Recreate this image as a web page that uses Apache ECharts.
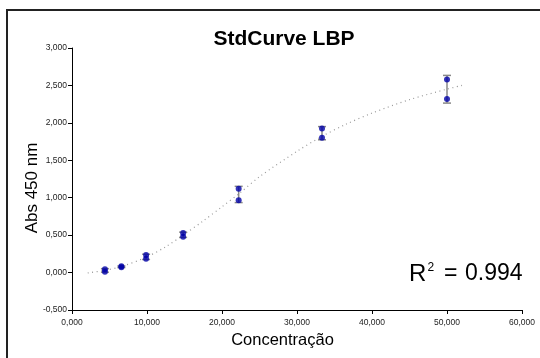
<!DOCTYPE html>
<html>
<head>
<meta charset="utf-8">
<script src="https://cdn.jsdelivr.net/npm/echarts@6/dist/echarts.min.js"></script>
<style>html,body{margin:0;padding:0;background:#fff}#c{width:540px;height:358px}</style>
</head>
<body>
<div id="c"></div>
<script>
// Data
var conc = [4.390, 6.584, 9.877, 14.815, 22.222, 33.333, 50.000];
var rep1 = [0.045, 0.085, 0.235, 0.530, 1.121, 1.924, 2.580];
var rep2 = [0.012, 0.070, 0.185, 0.480, 0.967, 1.800, 2.318];
var errHigh = [0.052, 0.088, 0.245, 0.540, 1.152, 1.950, 2.634];
var errLow  = [0.005, 0.067, 0.175, 0.470, 0.935, 1.774, 2.264];
var fitX = [2.1, 4.39, 6.584, 9.877, 12.5, 14.815, 17.5, 20, 22.222, 25, 30, 33.333, 36.5, 40, 45, 50, 52];
var fitY = [-0.005, 0.03, 0.08, 0.205, 0.345, 0.5, 0.69, 0.88, 1.05, 1.28, 1.62, 1.82, 1.98, 2.13, 2.31, 2.45, 2.50];
var xTicks = [0, 10, 20, 30, 40, 50, 60];
var yTicks = [-0.5, 0, 0.5, 1, 1.5, 2, 2.5, 3];

var FONT = '"Liberation Sans", Arial, sans-serif';
function fmt(v){ return v.toFixed(3).replace('.', ','); }

var pts = [];
for (var i = 0; i < conc.length; i++) { pts.push([conc[i], rep1[i]]); pts.push([conc[i], rep2[i]]); }
var errData = conc.map(function(c, i){ return [c, errLow[i], errHigh[i]]; });
var fitData = fitX.map(function(x, i){ return [x, fitY[i]]; });

var chart = echarts.init(document.getElementById('c'), null, {renderer: 'canvas'});
chart.setOption({
  animation: false,
  backgroundColor: '#fff',
  grid: {left: 72, right: 18, top: 48, bottom: 48, containLabel: false},
  xAxis: {
    type: 'value', min: xTicks[0], max: xTicks[xTicks.length-1], interval: 10,
    axisLine: {onZero: false, lineStyle: {color: '#000', width: 1}},
    axisTick: {show: true, length: 4, lineStyle: {color: '#000'}},
    splitLine: {show: false},
    axisLabel: {formatter: fmt, fontSize: 8.5, color: '#222', fontFamily: FONT, margin: 8}
  },
  yAxis: {
    type: 'value', min: yTicks[0], max: yTicks[yTicks.length-1], interval: 0.5,
    axisLine: {show: true, onZero: false, lineStyle: {color: '#000', width: 1}},
    axisTick: {show: true, length: 4, lineStyle: {color: '#000'}},
    splitLine: {show: false},
    axisLabel: {formatter: fmt, fontSize: 8.5, color: '#222', fontFamily: FONT, margin: 5}
  },
  series: [
    {
      type: 'line', data: fitData, showSymbol: false, smooth: 0.3, z: 1,
      lineStyle: {color: '#999', width: 1.2, type: [1, 3.5]}
    },
    {
      type: 'custom', data: errData, z: 2,
      renderItem: function(params, api){
        var x = api.value(0);
        var p1 = api.coord([x, api.value(1)]);
        var p2 = api.coord([x, api.value(2)]);
        var hw = 4;
        var st = {stroke: '#888', lineWidth: 1.5};
        return {type: 'group', children: [
          {type: 'line', shape: {x1: p1[0], y1: p1[1], x2: p2[0], y2: p2[1]}, style: st},
          {type: 'line', shape: {x1: p1[0]-hw, y1: p1[1], x2: p1[0]+hw, y2: p1[1]}, style: st},
          {type: 'line', shape: {x1: p2[0]-hw, y1: p2[1], x2: p2[0]+hw, y2: p2[1]}, style: st}
        ]};
      }
    },
    {
      type: 'scatter', data: pts, symbol: 'circle', symbolSize: 6, z: 3,
      itemStyle: {color: '#0000a8'}
    }
  ],
  graphic: [
    {type: 'rect', shape: {x: 7, y: 10, width: 600, height: 400}, style: {fill: 'none', stroke: '#222', lineWidth: 2}, silent: true},
    {type: 'text', x: 284, y: 39.5, style: {text: 'StdCurve LBP', font: 'bold 21px ' + FONT, fill: '#000', align: 'center', verticalAlign: 'middle'}},
    {type: 'text', x: 282.5, y: 340, style: {text: 'Concentração', font: '16.5px ' + FONT, fill: '#000', align: 'center', verticalAlign: 'middle'}},
    {type: 'text', x: 32, y: 188, rotation: Math.PI/2, style: {text: 'Abs 450 nm', font: '17px ' + FONT, fill: '#000', align: 'center', verticalAlign: 'middle'}},
    {type: 'text', x: 409, y: 274, style: {text: 'R', font: '24px ' + FONT, fill: '#000', align: 'left', verticalAlign: 'middle'}},
    {type: 'text', x: 427.5, y: 268, style: {text: '2', font: '12px ' + FONT, fill: '#000', align: 'left', verticalAlign: 'middle'}},
    {type: 'text', x: 444, y: 274, style: {text: '=', font: '23px ' + FONT, fill: '#000', align: 'left', verticalAlign: 'middle'}},
    {type: 'text', x: 465, y: 274, style: {text: '0.994', font: '23px ' + FONT, fill: '#000', align: 'left', verticalAlign: 'middle'}}
  ]
});
</script>
</body>
</html>
